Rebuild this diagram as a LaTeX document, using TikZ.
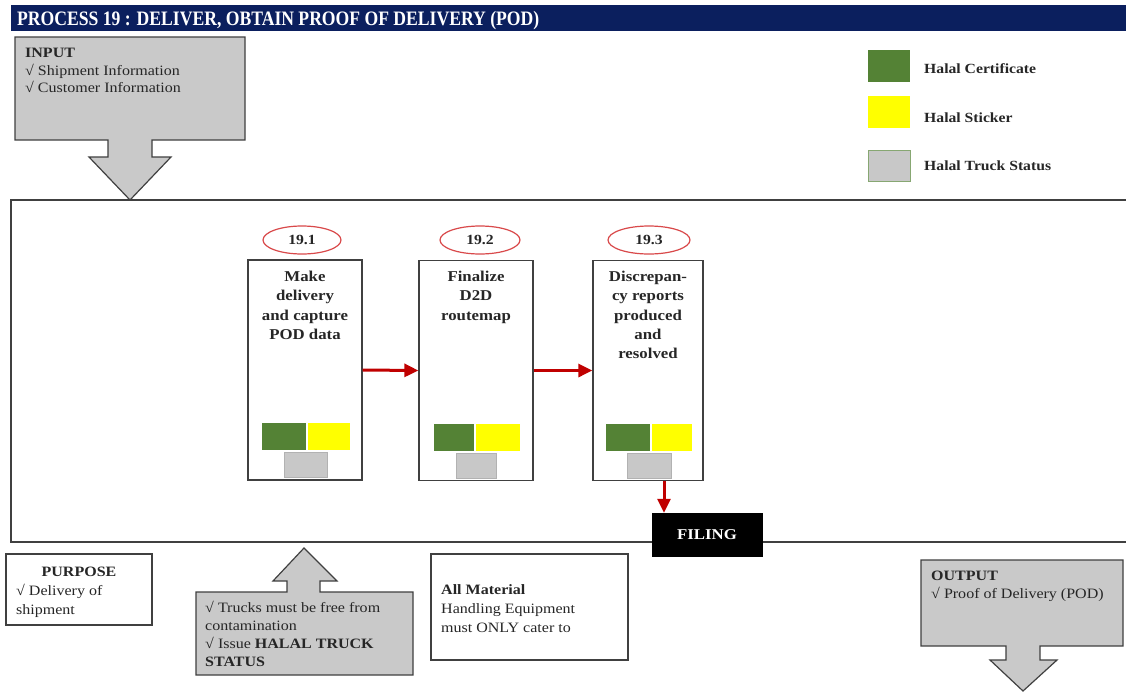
\documentclass[tikz,border=0pt]{standalone}
\usepackage{fontspec}
\setmainfont{Liberation Serif}[FakeStretch=1.12]
\newfontfamily\titlefont{Liberation Serif}[FakeStretch=0.86]
\usetikzlibrary{shapes.geometric,arrows.meta}
\definecolor{navy}{HTML}{0B1F5E}
\definecolor{hgreen}{HTML}{548235}
\definecolor{hyellow}{HTML}{FFFF00}
\definecolor{hgray}{HTML}{C8C8C8}
\definecolor{arrowgray}{HTML}{C9C9C9}
\definecolor{redarr}{HTML}{C00000}
\definecolor{ellred}{HTML}{D9494A}
\definecolor{edgegray}{HTML}{404040}
\definecolor{txt}{HTML}{262626}
\tikzset{
  bodytxt/.style={inner sep=0pt, anchor=base west, text=txt, font=\fontsize{14.3}{18}\selectfont, align=left},
  procbox/.style={draw=edgegray, line width=1.3pt, fill=white, minimum height=220pt, inner sep=0pt},
  proctxt/.style={inner sep=0pt, anchor=north, align=center, text=txt, font=\bfseries\fontsize{15}{19.2}\selectfont},
  numell/.style={ellipse, draw=ellred, line width=1.2pt, minimum width=78pt, minimum height=28pt, inner sep=0pt, font=\bfseries\fontsize{14}{16}\selectfont, text=txt},
  redarrow/.style={draw=redarr, line width=3pt, -{Triangle[length=14pt,width=13pt]}},
  bigarrow/.style={draw=edgegray, line width=1.2pt, fill=arrowgray, line join=miter},
  plainbox/.style={draw=edgegray, line width=1.2pt, fill=white},
  legtxt/.style={inner sep=0pt, anchor=west, text=txt, font=\bfseries\fontsize{14}{16}\selectfont},
}
\begin{document}
\begin{tikzpicture}[x=1pt,y=-1pt]
\useasboundingbox (0,0) rectangle (1126,691);
\fill[white] (0,0) rectangle (1126,691);
% title bar
\fill[navy] (11,5) rectangle (1126,31);
\node[inner sep=0pt, anchor=base west, text=white, font=\titlefont\bfseries\fontsize{20.5}{22}\selectfont] (title) at (17,25) {PROCESS 19 : DELIVER, OBTAIN PROOF OF DELIVERY (POD)};

% main frame
\draw[draw=edgegray, line width=1.3pt] (1130,200) -- (11,200) -- (11,542) -- (1130,542);

% input arrow
\draw[bigarrow] (15,37) -- (245,37) -- (245,140) -- (152,140) -- (152,157) -- (171,157) -- (130,200) -- (89,157) -- (108,157) -- (108,140) -- (15,140) -- cycle;
\node[bodytxt, font=\bfseries\fontsize{14.3}{18}\selectfont] (inhead) at (25,57) {INPUT};
\node[bodytxt] (in1) at (25,75) {√ Shipment Information};
\node[bodytxt] (in2) at (25,92) {√ Customer Information};

% legend
\fill[hgreen] (868,50) rectangle (910,82);
\fill[hyellow] (868,96) rectangle (910,128);
\draw[draw=hgreen!70!white, line width=1pt, fill=hgray] (868,150) rectangle (910,181);
\node[legtxt] (lg1) at (924,69) {Halal Certificate};
\node[legtxt] (lg2) at (924,118) {Halal Sticker};
\node[legtxt] (lg3) at (924,166) {Halal Truck Status};

% process boxes
\node[procbox, minimum width=114pt] (p1) at (305,370) {};
\node[procbox, minimum width=114pt] (p2) at (476,370.5) {};
\node[procbox, minimum width=110pt] (p3) at (648,370.5) {};
\node[numell] (e1) at (302,240) {19.1};
\node[numell, minimum width=80pt] (e2) at (480,240) {19.2};
\node[numell, minimum width=82pt] (e3) at (649,240) {19.3};
\node[proctxt] (t1) at (305,271) {Make\\delivery\\and capture\\POD data};
\node[proctxt] (t2) at (476,271) {Finalize\\D2D\\routemap};
\node[proctxt] (t3) at (648,271) {Discrepan-\\cy reports\\produced\\and\\resolved};

% status blocks
\fill[hgreen] (262,423) rectangle (306,450);
\fill[hyellow] (308,423) rectangle (350,450);
\draw[draw=gray!60, line width=0.8pt, fill=hgray] (284,452) rectangle (327,477);
\fill[hgreen] (434,424) rectangle (474,451);
\fill[hyellow] (476,424) rectangle (520,451);
\draw[draw=gray!60, line width=0.8pt, fill=hgray] (456,453) rectangle (496,478);
\fill[hgreen] (606,424) rectangle (650,451);
\fill[hyellow] (652,424) rectangle (692,451);
\draw[draw=gray!60, line width=0.8pt, fill=hgray] (627,453) rectangle (671,478);

% filing
\node[fill=black, draw=black, minimum width=110pt, minimum height=43pt, inner sep=0pt, text=white, font=\bfseries\fontsize{15}{16}\selectfont] (fil) at (707,534.5) {FILING};

% red connectors
\draw[redarrow] (p1.east) -- (p2.west);
\draw[redarrow] (p2.east) -- (p3.west);
\draw[redarrow] ([xshift=16pt]p3.south) -- ([xshift=16pt]p3.south |- fil.north);

% purpose
\draw[plainbox] (6,554) rectangle (152,625);
\node[inner sep=0pt, anchor=base, text=txt, font=\bfseries\fontsize{14.3}{18}\selectfont] (purp) at (79,576) {PURPOSE};
\node[bodytxt] (pu1) at (16,595) {√ Delivery of};
\node[bodytxt] (pu2) at (16,614) {shipment};

% up arrow (requirements)
\draw[bigarrow] (196,592) -- (287,592) -- (287,581) -- (273,581) -- (304,548) -- (337,581) -- (320,581) -- (320,592) -- (413,592) -- (413,675) -- (196,675) -- cycle;
\node[bodytxt] (rq1) at (205,612) {√ Trucks must be free from};
\node[bodytxt] (rq2) at (205,630) {contamination};
\node[bodytxt] (rq3) at (205,648) {√ Issue \textbf{HALAL TRUCK}};
\node[bodytxt, font=\bfseries\fontsize{14.3}{18}\selectfont] (rq4) at (205,666) {STATUS};

% all material
\draw[plainbox] (431,554) rectangle (628,660);
\node[bodytxt, font=\bfseries\fontsize{14.3}{18}\selectfont] (am1) at (441,594) {All Material};
\node[bodytxt] (am2) at (441,613) {Handling Equipment};
\node[bodytxt] (am3) at (441,632) {must ONLY cater to};

% output arrow
\draw[bigarrow] (921,560) -- (1123,560) -- (1123,646) -- (1040,646) -- (1040,660) -- (1057,660) -- (1023,691) -- (990,660) -- (1006,660) -- (1006,646) -- (921,646) -- cycle;
\node[bodytxt, font=\bfseries\fontsize{14.3}{18}\selectfont] (outhead) at (931,580) {OUTPUT};
\node[bodytxt] (out1) at (931,598) {√ Proof of Delivery (POD)};
\end{tikzpicture}
\end{document}
